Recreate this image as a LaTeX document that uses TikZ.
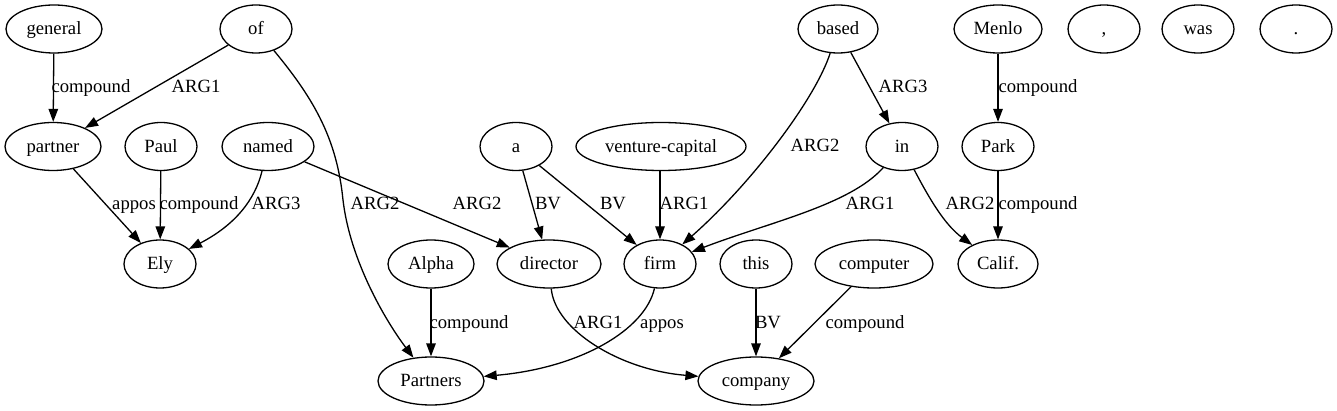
\documentclass[tikz,border=0pt]{standalone}
\usepackage{fontspec}
\setmainfont{Liberation Serif}
\usetikzlibrary{shapes.geometric,arrows.meta}
\begin{document}
\begin{tikzpicture}[x=1pt,y=-1pt,
  word/.style={draw,ellipse,line width=1.3pt,minimum height=48pt,inner sep=0pt,
    text height=15.6pt,text depth=4pt,
    font=\fontsize{18.67}{22}\selectfont},
  lbl/.style={inner sep=0pt,text height=15.6pt,text depth=4pt,
    font=\fontsize{18.67}{22}\selectfont},
  edge/.style={line width=1.3pt,-{Triangle[length=13pt,width=9.5pt]}}]
\useasboundingbox (0,0) rectangle (1337,411);
% row 1
\node[word,minimum width=96pt] (general) at (54,29) {general};
\node[word,minimum width=72pt] (of) at (256,29) {of};
\node[word,minimum width=80pt] (based) at (838,29) {based};
\node[word,minimum width=88pt] (Menlo) at (998,29) {Menlo};
\node[word,minimum width=72pt] (comma) at (1104,29) {,};
\node[word,minimum width=72pt] (was) at (1198,29) {was};
\node[word,minimum width=72pt] (period) at (1296,29) {.};
% row 2
\node[word,minimum width=96pt] (partner) at (53,146.5) {partner};
\node[word,minimum width=72pt] (Paul) at (161,146.5) {Paul};
\node[word,minimum width=92pt] (named) at (268,146.5) {named};
\node[word,minimum width=72pt] (a) at (516,146.5) {a};
\node[word,minimum width=170pt] (vc) at (661,146.5) {venture-capital};
\node[word,minimum width=72pt] (in) at (902,146.5) {in};
\node[word,minimum width=72pt] (Park) at (998,146.5) {Park};
% row 3
\node[word,minimum width=72pt] (Ely) at (160,264) {Ely};
\node[word,minimum width=86pt] (Alpha) at (431,264) {Alpha};
\node[word,minimum width=104pt] (director) at (549,264) {director};
\node[word,minimum width=72pt] (firm) at (660,264) {firm};
\node[word,minimum width=72pt] (this) at (756,264) {this};
\node[word,minimum width=118pt] (computer) at (874,264) {computer};
\node[word,minimum width=80pt] (Calif) at (998,264) {Calif.};
% row 4
\node[word,minimum width=106pt] (Partners) at (431,381) {Partners};
\node[word,minimum width=116pt] (company) at (756,381) {company};
% edges
\draw[edge] (general) -- (partner);
\draw[edge] (of) -- (partner);
\draw[edge] (of) .. controls (315,100) and (337,140) .. (343,200) .. controls (350,260) and (385,320) .. (Partners);
\draw[edge] (partner) -- (Ely);
\draw[edge] (Paul) -- (Ely);
\draw[edge] (named) .. controls (255,200) and (235,225) .. (Ely);
\draw[edge] (named) -- (director);
\draw[edge] (a) -- (director);
\draw[edge] (a) -- (firm);
\draw[edge] (firm |- vc.south) -- (firm);
\draw[edge] (based) .. controls (815,100) and (750,185) .. (firm);
\draw[edge] (based) -- (in);
\draw[edge] (in) .. controls (850,205) and (770,222) .. (firm);
\draw[edge] (in) .. controls (930,200) and (945,225) .. (Calif);
\draw[edge] (Menlo) -- (Park);
\draw[edge] (Park) -- (Calif);
\draw[edge] (Alpha) -- (Partners);
\draw[edge] (director) .. controls (555,330) and (620,370) .. (company);
\draw[edge] (firm) .. controls (645,330) and (580,368) .. (Partners);
\draw[edge] (this) -- (company);
\draw[edge] (computer) -- (company);
% labels
\node[lbl] (l1) at (91,87) {compound};
\node[lbl] (l2) at (196,87) {ARG1};
\node[lbl] (l3) at (903,87) {ARG3};
\node[lbl] (l4) at (1038,87) {compound};
\node[lbl] (l5) at (815,146) {ARG2};
\node[lbl] (l6) at (134,204) {appos};
\node[lbl] (l7) at (199,204) {compound};
\node[lbl] (l8) at (276,204) {ARG3};
\node[lbl] (l9) at (375,204) {ARG2};
\node[lbl] (l10) at (477,204) {ARG2};
\node[lbl] (l11) at (548,204) {BV};
\node[lbl] (l12) at (613,204) {BV};
\node[lbl] (l13) at (684,204) {ARG1};
\node[lbl] (l14) at (870,204) {ARG1};
\node[lbl] (l15) at (970,204) {ARG2};
\node[lbl] (l16) at (1038,204) {compound};
\node[lbl] (l17) at (469,322.5) {compound};
\node[lbl] (l18) at (598,322.5) {ARG1};
\node[lbl] (l19) at (662,322.5) {appos};
\node[lbl] (l20) at (768,322.5) {BV};
\node[lbl] (l21) at (865,322.5) {compound};
\end{tikzpicture}
\end{document}
